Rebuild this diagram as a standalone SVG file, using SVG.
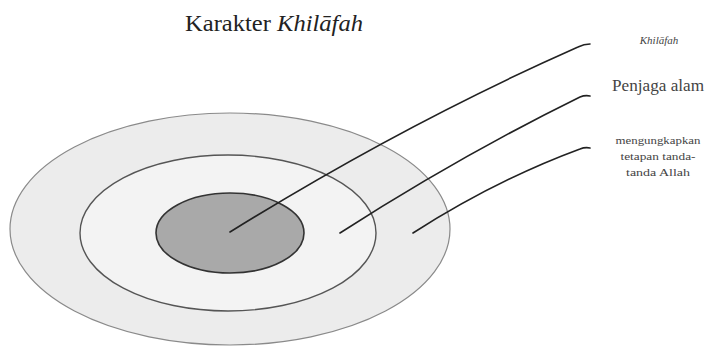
<svg xmlns="http://www.w3.org/2000/svg" width="709" height="349" viewBox="0 0 709 349">
<style>
.t{font-family:"Liberation Serif","Times New Roman",serif;fill:#222;text-anchor:middle}
.lab{font-family:"Liberation Serif","Times New Roman",serif;fill:#444;text-anchor:middle}
.ln{fill:none;stroke:#222;stroke-width:1.6;stroke-linecap:round}
</style>
<rect width="709" height="349" fill="#ffffff"/>
<g id="title"><text class="t" x="274" y="31" font-size="23" textLength="178" lengthAdjust="spacingAndGlyphs">Karakter <tspan font-style="italic">Khilāfah</tspan></text></g>
<g id="outer"><ellipse cx="230" cy="229" rx="220" ry="116" fill="#ececec" stroke="#8a8a8a" stroke-width="1.2"/></g>
<g id="middle"><ellipse cx="228" cy="233" rx="148" ry="78" fill="#f3f3f3" stroke="#555" stroke-width="1.4"/></g>
<g id="inner"><ellipse cx="230" cy="233" rx="74" ry="40" fill="#a9a9a9" stroke="#333" stroke-width="1.6"/></g>
<g id="connectors">
<path class="ln" d="M230,232 Q404,124 578,47 Q584,44 590,44"/>
<path class="ln" d="M340,233 Q460,156 580,97 Q585,95 590,96"/>
<path class="ln" d="M413,233 Q496,180 580,149 Q585,147 590,148"/>
</g>
<g id="label-khilafah"><text class="lab" x="659" y="44" font-size="11" font-style="italic">Khilāfah</text></g>
<g id="label-penjaga"><text class="lab" x="658" y="91" font-size="16" textLength="92" lengthAdjust="spacingAndGlyphs">Penjaga alam</text></g>
<g id="label-tanda">
<text class="lab" x="658" y="144" font-size="11" textLength="85" lengthAdjust="spacingAndGlyphs">mengungkapkan</text>
<text class="lab" x="658" y="160" font-size="11" textLength="75" lengthAdjust="spacingAndGlyphs">tetapan tanda-</text>
<text class="lab" x="658" y="176" font-size="11" textLength="64" lengthAdjust="spacingAndGlyphs">tanda Allah</text>
</g>
</svg>
